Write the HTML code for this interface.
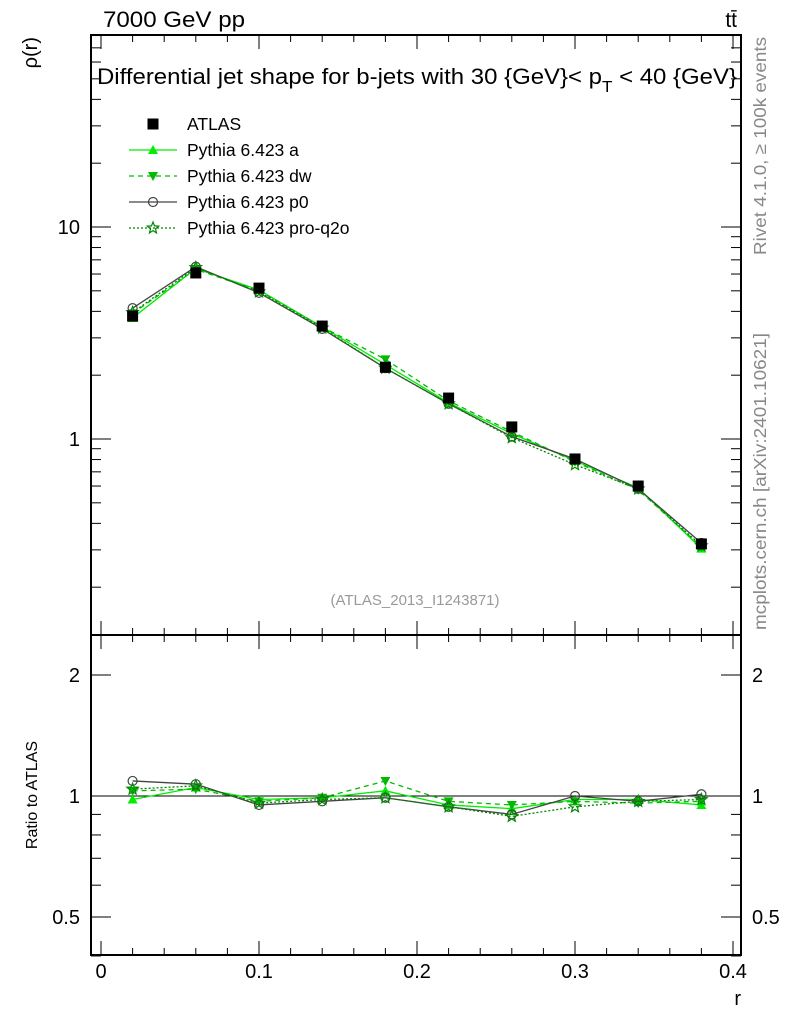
<!DOCTYPE html>
<html><head><meta charset="utf-8"><style>
body{margin:0;background:#fff}
svg{display:block;font-family:"Liberation Sans",sans-serif}
</style></head><body>
<svg id="c" width="786" height="1024" xmlns="http://www.w3.org/2000/svg"></svg>
<script>
const rValues=[0.02,0.06,0.10,0.14,0.18,0.22,0.26,0.30,0.34,0.38];
const atlasValues=[3.8,6.07,5.15,3.41,2.18,1.56,1.14,0.805,0.60,0.32];
const ratioA=[0.98,1.05,0.98,0.99,1.03,0.95,0.93,0.98,0.98,0.95];
const ratioDW=[1.03,1.04,0.97,0.99,1.09,0.97,0.95,0.97,0.96,0.97];
const ratioP0=[1.09,1.07,0.95,0.97,0.99,0.94,0.90,1.00,0.97,1.01];
const ratioQ2O=[1.04,1.06,0.96,0.98,0.99,0.94,0.89,0.94,0.97,0.98];
const xTicks=[0,0.1,0.2,0.3,0.4];
const xTickLabels=["0","0.1","0.2","0.3","0.4"];
const mainTicks=[1,10];
const ratioTicks=[0.5,1,2];

const NS="http://www.w3.org/2000/svg";
const svg=document.getElementById('c');
function el(t,a,p){const e=document.createElementNS(NS,t);for(const k in a)e.setAttribute(k,a[k]);(p||svg).appendChild(e);return e;}
const L=91,R=741,T=35,M=635,B=955;
const X=v=>101+v*1580;
const Y=v=>439-212*Math.log10(v);
const YR=v=>796-402*Math.log10(v);

let f=el('rect',{x:L,y:T,width:R-L,height:M-T,fill:'none',stroke:'#000','stroke-width':2});

f=el('rect',{x:L,y:M,width:R-L,height:B-M,fill:'none',stroke:'#000','stroke-width':2});


for(let i=0;i<=20;i++){const v=i*0.02,x=X(v);if(x>R)continue;const big=i%5==0;const l=big?14:7;
 [[T,1],[M,-1],[M,1],[B,-1]].forEach(([y,d])=>el('line',{x1:x,x2:x,y1:y,y2:y+d*l,stroke:'#000'}));}
xTicks.forEach((v,i)=>{const t=el('text',{x:X(v),y:978,'font-size':20,'text-anchor':'middle'});t.textContent=xTickLabels[i];
 });
let t=el('text',{x:741,y:1005,'font-size':20,'text-anchor':'end'});t.textContent='r';


for(let e=-1;e<=1;e++)for(let m=1;m<=9;m++){const v=m*Math.pow(10,e),y=Y(v);if(y<T||y>M)continue;const l=m==1?20:10;
 el('line',{x1:L,x2:L+l,y1:y,y2:y,stroke:'#000'});el('line',{x1:R,x2:R-l,y1:y,y2:y,stroke:'#000'});}
mainTicks.forEach(v=>{const t=el('text',{x:80,y:Y(v)+7,'font-size':20,'text-anchor':'end'});t.textContent=String(v);
 });
t=el('text',{x:0,y:0,'font-size':20,'text-anchor':'end',transform:'translate(37,37) rotate(-90)'});t.textContent='ρ(r)';


[0.4,0.5,0.6,0.7,0.8,0.9,1,2].forEach(v=>{const y=YR(v);const l=(v==1||v==0.5||v==2)?20:10;
 el('line',{x1:L,x2:L+l,y1:y,y2:y,stroke:'#000'});el('line',{x1:R,x2:R-l,y1:y,y2:y,stroke:'#000'});});
ratioTicks.forEach(v=>{[[80,'end'],[752,'start']].forEach(([x,a])=>{const t=el('text',{x:x,y:YR(v)+7,'font-size':20,'text-anchor':a});t.textContent=String(v);
 });});
t=el('text',{x:0,y:0,'font-size':16,'text-anchor':'middle',transform:'translate(37,795) rotate(-90)'});t.textContent='Ratio to ATLAS';

el('line',{x1:L,x2:R,y1:YR(1),y2:YR(1),stroke:'#000'});

t=el('text',{x:103,y:27,'font-size':22,textLength:142,lengthAdjust:'spacingAndGlyphs'});t.textContent='7000 GeV pp';

t=el('text',{x:737,y:27,'font-size':21,'text-anchor':'end'});t.textContent='tt̄';

t=el('text',{x:97,y:84,'font-size':22.5,textLength:640,lengthAdjust:'spacingAndGlyphs'});t.innerHTML='Differential jet shape for b-jets with 30 {GeV}&lt; p<tspan dy="8" font-size="16">T</tspan><tspan dy="-8"> &lt; 40 {GeV}</tspan>';

t=el('text',{x:415,y:605,'font-size':15,fill:'#999','text-anchor':'middle'});t.textContent='(ATLAS_2013_I1243871)';

t=el('text',{x:0,y:0,'font-size':17.5,fill:'#888','text-anchor':'end',textLength:218,lengthAdjust:'spacingAndGlyphs',transform:'translate(766,37) rotate(-90)'});t.textContent='Rivet 4.1.0, ≥ 100k events';

t=el('text',{x:0,y:0,'font-size':17.5,fill:'#888','text-anchor':'end',textLength:297,lengthAdjust:'spacingAndGlyphs',transform:'translate(766,333) rotate(-90)'});t.textContent='mcplots.cern.ch [arXiv:2401.10621]';


function marker(kind,x,y,col,g){
 if(kind=='sq')return el('rect',{x:x-5.5,y:y-5.5,width:11,height:11,fill:'#000'},g);
 if(kind=='up')return el('polygon',{points:`${x},${y-5} ${x-5},${y+4} ${x+5},${y+4}`,fill:col},g);
 if(kind=='dn')return el('polygon',{points:`${x},${y+5} ${x-5},${y-4} ${x+5},${y-4}`,fill:col},g);
 if(kind=='o')return el('circle',{cx:x,cy:y,r:4.5,fill:'none',stroke:col,'stroke-width':1.2},g);
 if(kind=='star'){let p=[];for(let i=0;i<10;i++){const a=-Math.PI/2+i*Math.PI/5,r=i%2?2.6:6;p.push((x+r*Math.cos(a)).toFixed(1)+','+(y+r*Math.sin(a)).toFixed(1));}
  return el('polygon',{points:p.join(' '),fill:'none',stroke:col,'stroke-width':1.2},g);}
}
const series=[
 {name:'Pythia 6.423 a',r:ratioA,col:'#00ee00',dash:'',m:'up',id:'pythia-a'},
 {name:'Pythia 6.423 dw',r:ratioDW,col:'#00bb00',dash:'5,4',m:'dn',id:'pythia-dw'},
 {name:'Pythia 6.423 p0',r:ratioP0,col:'#444',dash:'',m:'o',id:'pythia-p0'},
 {name:'Pythia 6.423 pro-q2o',r:ratioQ2O,col:'#008800',dash:'2,2',m:'star',id:'pythia-pro-q2o'}];
series.forEach(s=>{
 const g=el('g',{});
 const pm=rValues.map((r,i)=>X(r)+','+Y(atlasValues[i]*s.r[i])).join(' ');
 el('polyline',{points:pm,fill:'none',stroke:s.col,'stroke-width':1.3,'stroke-dasharray':s.dash},g);
 const pr=rValues.map((r,i)=>X(r)+','+YR(s.r[i])).join(' ');
 el('polyline',{points:pr,fill:'none',stroke:s.col,'stroke-width':1.3,'stroke-dasharray':s.dash},g);
 rValues.forEach((r,i)=>{let m=marker(s.m,X(r),Y(atlasValues[i]*s.r[i]),s.col,g);
  m=marker(s.m,X(r),YR(s.r[i]),s.col,g);});
});
const ga=el('g',{});
rValues.forEach((r,i)=>{const m=marker('sq',X(r),Y(atlasValues[i]),'#000',ga);});

const lg=el('g',{});
let e=el('g',{},lg);
marker('sq',153,124,'#000',e);t=el('text',{x:187,y:130,'font-size':17.5},e);t.textContent='ATLAS';
series.forEach((s,i)=>{const y=150+26*i;const e=el('g',{},lg);
 el('line',{x1:129,x2:177,y1:y,y2:y,stroke:s.col,'stroke-width':1.3,'stroke-dasharray':s.dash},e);marker(s.m,153,y,s.col,e);
 const t=el('text',{x:187,y:y+6,'font-size':17.5},e);t.textContent=s.name;});
</script>
</body></html>
